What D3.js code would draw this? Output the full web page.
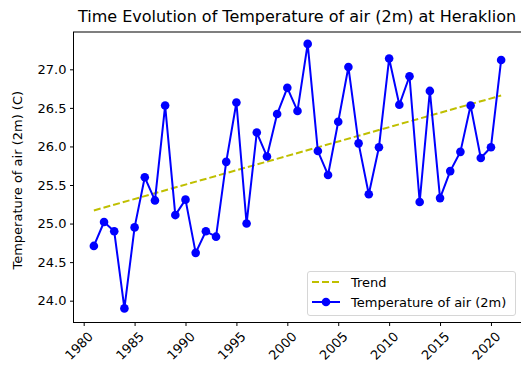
<!DOCTYPE html>
<html>
<head>
<meta charset="utf-8">
<script src="https://cdn.jsdelivr.net/npm/d3@7"></script>
<style>
  html, body { margin: 0; padding: 0; background: #fff; }
  svg { display: block; }
  text { font-family: "DejaVu Sans", sans-serif; fill: #000; }
</style>
</head>
<body>
<svg id="chart" width="521" height="371"></svg>
<script>
// ---- data ----
const years = [1981,1982,1983,1984,1985,1986,1987,1988,1989,1990,
               1991,1992,1993,1994,1995,1996,1997,1998,1999,2000,
               2001,2002,2003,2004,2005,2006,2007,2008,2009,2010,
               2011,2012,2013,2014,2015,2016,2017,2018,2019,2020,2021];
const temps = [24.71,25.02,24.90,23.90,24.95,25.60,25.30,26.53,25.11,25.31,
               24.62,24.90,24.83,25.80,26.57,25.00,26.18,25.87,26.42,26.76,
               26.46,27.33,25.94,25.63,26.32,27.03,26.04,25.38,25.99,27.14,
               26.54,26.91,25.28,26.72,25.33,25.68,25.93,26.53,25.85,25.99,27.12];
const trendYears = [1981, 2021];
const trendValues = [25.17, 26.66];
const xTicks = [1980,1985,1990,1995,2000,2005,2010,2015,2020];
const yTicks = [24.0,24.5,25.0,25.5,26.0,26.5,27.0];
const titleText = "Time Evolution of Temperature of air (2m) at Heraklion";
const yLabelText = "Temperature of air (2m) (C)";
const legendLabels = ["Trend", "Temperature of air (2m)"];

// ---- layout ----
const L = 73.5, R = 521.5, T = 32, B = 322.5;
const FS = 13;
const svg = d3.select("#chart");

const x = d3.scaleLinear().domain([1979, 2023]).range([L, R]);
const y = d3.scaleLinear().domain([23.717, 27.484]).range([B, T]);

// axes
const xAxis = svg.append("g").attr("transform", `translate(0,${B})`)
  .call(d3.axisBottom(x).tickValues(xTicks).tickFormat(d3.format("d")).tickSize(3.5).tickPadding(3));
xAxis.select(".domain").remove();
xAxis.selectAll("line").attr("stroke", "#000").attr("stroke-width", 1);
xAxis.selectAll("text")
  .attr("font-size", FS)
  .attr("text-anchor", "end")
  .attr("dy", null)
  .attr("y", 0).attr("x", 0)
  .attr("transform", "translate(3,8) rotate(-45)")
  .attr("dominant-baseline", "hanging");

const yAxis = svg.append("g").attr("transform", `translate(${L},0)`)
  .call(d3.axisLeft(y).tickValues(yTicks).tickFormat(d3.format(".1f")).tickSize(3.5).tickPadding(3.5));
yAxis.select(".domain").remove();
yAxis.selectAll("line").attr("stroke", "#000").attr("stroke-width", 1);
yAxis.selectAll("text").attr("font-size", FS);

// frame
svg.append("rect").attr("x", L).attr("y", T).attr("width", R - L).attr("height", B - T)
  .attr("fill", "none").attr("stroke", "#000").attr("stroke-width", 1);

// trend
const trendData = trendYears.map((yr, i) => [yr, trendValues[i]]);
svg.append("path").datum(trendData)
  .attr("d", d3.line().x(d => x(d[0])).y(d => y(d[1])))
  .attr("fill", "none").attr("stroke", "#bfbf00").attr("stroke-width", 2)
  .attr("stroke-dasharray", "7,3");

// temperature
const tData = years.map((yr, i) => [yr, temps[i]]);
svg.append("path").datum(tData)
  .attr("d", d3.line().x(d => x(d[0])).y(d => y(d[1])))
  .attr("fill", "none").attr("stroke", "#0000ff").attr("stroke-width", 2)
  .attr("stroke-linejoin", "round");
svg.append("g").selectAll("circle").data(tData).join("circle")
  .attr("cx", d => x(d[0])).attr("cy", d => y(d[1])).attr("r", 4.3)
  .attr("fill", "#0000ff");

// title
svg.append("text").attr("x", (L + R) / 2 - 0.5).attr("y", 22)
  .attr("text-anchor", "middle").attr("font-size", 16).text(titleText);

// y label
svg.append("text")
  .attr("transform", `translate(22,${(T + B) / 2 + 3}) rotate(-90)`)
  .attr("text-anchor", "middle").attr("font-size", FS).text(yLabelText);

// legend
const lg = svg.append("g");
lg.append("rect").attr("x", 307.5).attr("y", 271.5).attr("width", 208).attr("height", 44)
  .attr("rx", 2.5).attr("fill", "#fff").attr("fill-opacity", 0.8)
  .attr("stroke", "#d6d6d6").attr("stroke-width", 1);
lg.append("line").attr("x1", 312).attr("x2", 340).attr("y1", 282).attr("y2", 282)
  .attr("stroke", "#bfbf00").attr("stroke-width", 2).attr("stroke-dasharray", "7,3");
lg.append("line").attr("x1", 312).attr("x2", 340).attr("y1", 302).attr("y2", 302)
  .attr("stroke", "#0000ff").attr("stroke-width", 2);
lg.append("circle").attr("cx", 326).attr("cy", 302).attr("r", 4.3).attr("fill", "#0000ff");
lg.selectAll("text.lbl").data(legendLabels).join("text").attr("class", "lbl")
  .attr("x", 351).attr("y", (d, i) => 282 + i * 20).attr("dy", "0.35em")
  .attr("font-size", FS).text(d => d);
</script>
</body>
</html>
